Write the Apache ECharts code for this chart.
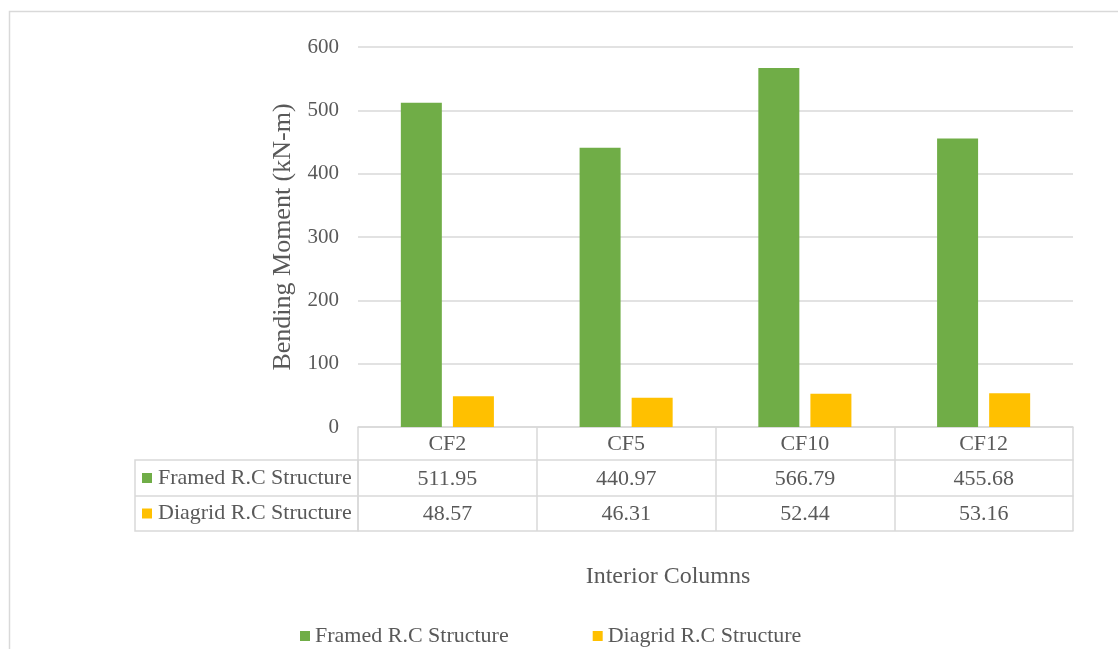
<!DOCTYPE html>
<html>
<head>
<meta charset="utf-8">
<script src="https://cdn.jsdelivr.net/npm/echarts@6/dist/echarts.min.js"></script>
<style>
  html, body { margin: 0; padding: 0; background: #ffffff; }
  #chart { width: 1118px; height: 649px; }
</style>
</head>
<body>
<div id="chart"></div>
<script>
// Bending moment in interior columns: framed vs diagrid RC structure
const categories = ['CF2', 'CF5', 'CF10', 'CF12'];
const framedValues = [511.95, 440.97, 566.79, 455.68];
const diagridValues = [48.57, 46.31, 52.44, 53.16];
const seriesNames = ['Framed R.C Structure', 'Diagrid R.C Structure'];
const seriesColors = ['#70ad47', '#ffc000'];
const yTicks = { min: 0, max: 600, interval: 100 };
const yTitle = 'Bending Moment (kN-m)';
const xTitle = 'Interior Columns';

const FONT = "'Liberation Serif', 'Times New Roman', serif";
const TEXT = '#595959';
const LINE = '#d9d9d9';

const rowValues = [framedValues, diagridValues];

// grid edges
const G = { left: 358, right: 1073, top: 47, bottom: 427 };
const rowH = [33, 36, 35];

function tableAxis(offset, len, formatter) {
  return {
    type: 'category',
    data: categories,
    gridIndex: 0,
    position: 'bottom',
    offset: offset,
    axisLine: { show: true, lineStyle: { color: LINE, width: 1.5 } },
    axisTick: { show: len > 0, interval: 0, length: len, lineStyle: { color: LINE, width: 1.5 } },
    axisLabel: {
      show: !!formatter,
      interval: 0,
      margin: len / 2 + 1,
      verticalAlign: 'middle',
      color: TEXT,
      fontFamily: FONT,
      fontSize: 22,
      formatter: formatter || undefined
    },
    splitLine: { show: false }
  };
}

const xAxes = [
  tableAxis(0, rowH[0], v => v),
  tableAxis(rowH[0], rowH[1], (v, i) => rowValues[0][i].toFixed(2)),
  tableAxis(rowH[0] + rowH[1], rowH[2], (v, i) => rowValues[1][i].toFixed(2)),
  tableAxis(rowH[0] + rowH[1] + rowH[2], 0, null)
];

const chart = echarts.init(document.getElementById('chart'), null, { renderer: 'canvas' });

const tableTop = G.bottom + rowH[0];
const tableMid = tableTop + rowH[1];
const tableBot = tableMid + rowH[2];
const leftEdge = 135;

const graphics = [
  // outer chart frame
  { type: 'rect', shape: { x: 9.5, y: 11.5, width: 1200, height: 800 },
    style: { fill: 'none', stroke: LINE, lineWidth: 1.5 }, silent: true },
  // series-name column of the data table
  { type: 'rect', shape: { x: leftEdge, y: tableTop, width: G.left - leftEdge, height: tableBot - tableTop },
    style: { fill: 'none', stroke: LINE, lineWidth: 1.5 }, silent: true },
  { type: 'line', shape: { x1: leftEdge, y1: tableMid, x2: G.left, y2: tableMid },
    style: { stroke: LINE, lineWidth: 1.5 }, silent: true },
  // x axis title
  { type: 'text', x: 668, y: 577,
    style: { text: xTitle, fill: TEXT, font: '24px ' + FONT, textAlign: 'center', textVerticalAlign: 'middle' } }
];

seriesNames.forEach((name, i) => {
  const cy = i === 0 ? (tableTop + tableMid) / 2 : (tableMid + tableBot) / 2;
  graphics.push({ type: 'rect', shape: { x: 142, y: cy - 5, width: 10, height: 10 },
    style: { fill: seriesColors[i] }, silent: true });
  graphics.push({ type: 'text', x: 158, y: cy,
    style: { text: name, fill: TEXT, font: '22px ' + FONT, textAlign: 'left', textVerticalAlign: 'middle' } });
});

chart.setOption({
  animation: false,
  backgroundColor: '#ffffff',
  textStyle: { fontFamily: FONT },
  grid: { left: G.left, right: 1118 - G.right, top: G.top, bottom: 649 - G.bottom, containLabel: false },
  legend: {
    left: 295,
    top: 620,
    icon: 'rect',
    itemWidth: 10,
    itemHeight: 10,
    itemGap: 84,
    data: seriesNames,
    textStyle: { color: TEXT, fontFamily: FONT, fontSize: 22 }
  },
  xAxis: xAxes,
  yAxis: {
    type: 'value',
    min: yTicks.min,
    max: yTicks.max,
    interval: yTicks.interval,
    name: yTitle,
    nameLocation: 'middle',
    nameGap: 62,
    nameTextStyle: { color: TEXT, fontFamily: FONT, fontSize: 26 },
    axisLine: { show: false },
    axisTick: { show: false },
    axisLabel: { color: TEXT, fontFamily: FONT, fontSize: 21, margin: 19 },
    splitLine: { lineStyle: { color: LINE, width: 1.5 } }
  },
  series: [
    { name: seriesNames[0], type: 'bar', xAxisIndex: 0, data: framedValues,
      barWidth: 41, barGap: '27%', itemStyle: { color: seriesColors[0] } },
    { name: seriesNames[1], type: 'bar', xAxisIndex: 0, data: diagridValues,
      barWidth: 41, barGap: '27%', itemStyle: { color: seriesColors[1] } }
  ],
  graphic: graphics
});
</script>
</body>
</html>
